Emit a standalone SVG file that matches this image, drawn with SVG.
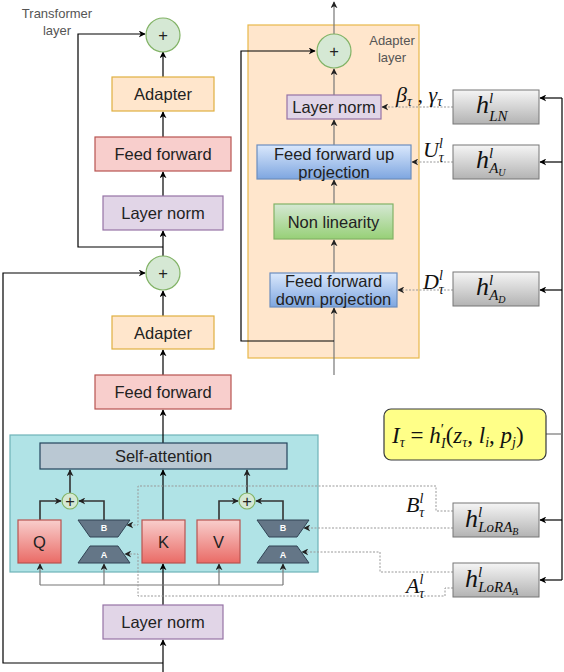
<svg xmlns="http://www.w3.org/2000/svg" width="564" height="672" viewBox="0 0 564 672">
<defs>
<marker id="arr" viewBox="0 0 10 10" refX="9" refY="5" markerWidth="7" markerHeight="7" orient="auto" markerUnits="userSpaceOnUse"><path d="M0,0 L10,5 L0,10 L3,5 z" fill="#000"/></marker>
<marker id="arrg" viewBox="0 0 10 10" refX="9" refY="5" markerWidth="7" markerHeight="7" orient="auto" markerUnits="userSpaceOnUse"><path d="M0,0 L10,5 L0,10 L3,5 z" fill="#222"/></marker>
<linearGradient id="gGray" x1="0" y1="0" x2="0" y2="1"><stop offset="0" stop-color="#f5f5f5"/><stop offset="1" stop-color="#b3b3b3"/></linearGradient>
<linearGradient id="gRed" x1="0" y1="0" x2="0" y2="1"><stop offset="0" stop-color="#f8cecc"/><stop offset="1" stop-color="#ea6b66"/></linearGradient>
<linearGradient id="gBlue" x1="0" y1="0" x2="0" y2="1"><stop offset="0" stop-color="#dae8fc"/><stop offset="1" stop-color="#7ea6e0"/></linearGradient>
<linearGradient id="gGreen" x1="0" y1="0" x2="0" y2="1"><stop offset="0" stop-color="#d5e8d4"/><stop offset="1" stop-color="#97d077"/></linearGradient>
</defs>
<style>
.lbl{font-family:"Liberation Sans",Arial,sans-serif;font-size:16.5px;fill:#222;text-anchor:middle;dominant-baseline:central}
.sm{font-family:"Liberation Sans",Arial,sans-serif;font-size:13px;fill:#555;text-anchor:middle}
.m{font-family:"Liberation Serif","Times New Roman",serif;font-style:italic;fill:#111}
.ln{fill:none;stroke:#000;stroke-width:1.2}
.lg{fill:none;stroke:#777;stroke-width:1.2}
.ld{fill:none;stroke:#333;stroke-width:1.6}
.dot{fill:none;stroke:#999;stroke-width:1;stroke-dasharray:2 1.5}
.adapter{fill:#ffe6cc;stroke:#e0b040;stroke-width:1.2}
.ff{fill:#f8cecc;stroke:#b85450;stroke-width:1.2}
.norm{fill:#e1d5e7;stroke:#9673a6;stroke-width:1.2}
.plus{fill:#d5e8d4;stroke:#82b366;stroke-width:1.2}
.hbox{fill:url(#gGray);stroke:#777;stroke-width:1}
.qkv{fill:url(#gRed);stroke:#b85450;stroke-width:1.2}
.trap{fill:#647687;stroke:#314354;stroke-width:1}
.tl{font-family:"Liberation Sans",Arial,sans-serif;font-size:9px;font-weight:bold;fill:#fff;text-anchor:middle;dominant-baseline:central}
</style>

<g id="adapter-layer-panel">
<rect x="248" y="25" width="171" height="333" fill="#ffe6cc" stroke="#e8b84a" stroke-width="1.2"/>
<text class="sm" x="392" y="45">Adapter</text>
<text class="sm" x="392" y="62">layer</text>
</g>
<g id="teal-panel"><rect x="10" y="435" width="308" height="137" fill="#b0e3e6" stroke="#6fb3b8" stroke-width="1.2"/></g>

<g id="connectors">
<path class="ln" d="M163,256 V231" marker-end="url(#arr)"/>
<path class="ln" d="M163,247 H78 V34 H145" marker-end="url(#arr)"/>
<path class="ln" d="M163,196 V172" marker-end="url(#arr)"/>
<path class="ln" d="M163,137 V112" marker-end="url(#arr)"/>
<path class="ln" d="M163,77 V52" marker-end="url(#arr)"/>
<path class="ln" d="M163,316 V291" marker-end="url(#arr)"/>
<path class="ln" d="M163,375 V350" marker-end="url(#arr)"/>
<path class="ln" d="M163,443 V410" marker-end="url(#arr)"/>
<path class="ln" d="M163,672 V640" marker-end="url(#arr)"/>
<path class="ln" d="M163,663 H3 V273 H145" marker-end="url(#arr)"/>
<path class="ln" d="M163,605 V564" marker-end="url(#arr)"/>
<path class="ln" d="M163,520 V470" marker-end="url(#arr)"/>
<path class="lg" d="M40,585 H283"/>
<path class="lg" d="M40,585 V564" marker-end="url(#arrg)"/>
<path class="lg" d="M104,585 V564" marker-end="url(#arrg)"/>
<path class="lg" d="M219,585 V564" marker-end="url(#arrg)"/>
<path class="lg" d="M283,585 V564" marker-end="url(#arrg)"/>
<path class="ld" d="M40,520 V501 H61" marker-end="url(#arrg)"/>
<path class="ld" d="M104,520 V501 H79" marker-end="url(#arrg)"/>
<path class="ld" d="M70,493 V470" marker-end="url(#arrg)"/>
<path class="ld" d="M219,520 V501 H238" marker-end="url(#arrg)"/>
<path class="ld" d="M283,520 V501 H256" marker-end="url(#arrg)"/>
<path class="ld" d="M247,493 V470" marker-end="url(#arrg)"/>
<path class="lg" d="M334,375 V308" marker-end="url(#arrg)"/>
<path class="ln" d="M334,341 H241 V51 H315" marker-end="url(#arr)"/>
<path class="lg" d="M334,273 V240" marker-end="url(#arrg)"/>
<path class="lg" d="M334,204 V180" marker-end="url(#arrg)"/>
<path class="lg" d="M334,145 V120" marker-end="url(#arrg)"/>
<path class="lg" d="M334,95 V69" marker-end="url(#arrg)"/>
<path class="lg" d="M334,34 V2" marker-end="url(#arrg)"/>
<path class="ln" d="M562,98 V580"/>
<path class="ln" d="M562,98 H540" marker-end="url(#arr)"/>
<path class="ln" d="M562,162 H540" marker-end="url(#arr)"/>
<path class="ln" d="M562,290 H540" marker-end="url(#arr)"/>
<path class="ln" d="M562,520 H540" marker-end="url(#arr)"/>
<path class="ln" d="M562,580 H540" marker-end="url(#arr)"/>
<path class="lg" d="M546,434 H562" stroke="#999"/>
<path class="dot" d="M453,107 H382" marker-end="url(#arrg)"/>
<path class="dot" d="M453,162 H412" marker-end="url(#arrg)"/>
<path class="dot" d="M453,290 H398" marker-end="url(#arrg)"/>
<path class="dot" d="M453,528 H304" marker-end="url(#arrg)"/>
<path class="dot" d="M453,511 H436 V486 H138 V525 H127" marker-end="url(#arrg)"/>
<path class="dot" d="M453,572 H380 V552 H302" marker-end="url(#arrg)"/>
<path class="dot" d="M453,588 H445 V596 H138 V554 H125" marker-end="url(#arrg)"/>
</g>

<text class="sm" x="57" y="18">Transformer</text>
<text class="sm" x="57" y="35">layer</text>

<g id="plus-top"><circle class="plus" cx="163" cy="35" r="17"/><text class="lbl" x="163" y="35" font-size="13">+</text></g>
<g id="adapter-top"><rect class="adapter" x="112" y="77" width="102" height="34"/><text class="lbl" x="163" y="94">Adapter</text></g>
<g id="ff-top"><rect class="ff" x="95" y="137" width="136" height="34"/><text class="lbl" x="163" y="154">Feed forward</text></g>
<g id="norm-top"><rect class="norm" x="103" y="196" width="120" height="34"/><text class="lbl" x="163" y="213">Layer norm</text></g>
<g id="plus-mid"><circle class="plus" cx="163" cy="273" r="17"/><text class="lbl" x="163" y="273" font-size="13">+</text></g>
<g id="adapter-bottom"><rect class="adapter" x="112" y="316" width="102" height="33"/><text class="lbl" x="163" y="332.5">Adapter</text></g>
<g id="ff-bottom"><rect class="ff" x="95" y="375" width="136" height="34"/><text class="lbl" x="163" y="392">Feed forward</text></g>
<g id="self-attention"><rect x="40" y="443" width="247" height="26" fill="#bac8d3" stroke="#23445d" stroke-width="1.2"/><text class="lbl" x="163.5" y="456">Self-attention</text></g>
<g id="q"><rect class="qkv" x="18" y="520" width="43" height="43"/><text class="lbl" x="39.5" y="541.5" font-size="19">Q</text></g>
<g id="k"><rect class="qkv" x="142" y="520" width="43" height="43"/><text class="lbl" x="163.5" y="541.5" font-size="19">K</text></g>
<g id="v"><rect class="qkv" x="197" y="520" width="43" height="43"/><text class="lbl" x="218.5" y="541.5" font-size="19">V</text></g>
<g id="lora-b1"><path class="trap" d="M78,520 H130 L118,537 H90 Z"/><text class="tl" x="104" y="528">B</text></g>
<g id="lora-a1"><path class="trap" d="M90,546 H118 L130,563 H78 Z"/><text class="tl" x="104" y="555">A</text></g>
<g id="lora-b2"><path class="trap" d="M257,520 H309 L297,537 H269 Z"/><text class="tl" x="283" y="528">B</text></g>
<g id="lora-a2"><path class="trap" d="M269,546 H297 L309,563 H257 Z"/><text class="tl" x="283" y="555">A</text></g>
<g id="sum-q"><circle class="plus" cx="70" cy="501" r="8"/><text class="lbl" x="70" y="501" font-size="8">+</text></g>
<g id="sum-v"><circle class="plus" cx="247" cy="501" r="8"/><text class="lbl" x="247" y="501" font-size="8">+</text></g>
<g id="norm-bottom"><rect class="norm" x="103" y="605" width="120" height="34"/><text class="lbl" x="163" y="622">Layer norm</text></g>

<g id="plus-adapter"><circle class="plus" cx="334" cy="51" r="17"/><text class="lbl" x="334" y="51" font-size="13">+</text></g>
<g id="adapter-norm"><rect class="norm" x="287" y="95" width="94" height="24"/><text class="lbl" x="334" y="107">Layer norm</text></g>
<g id="ff-up"><rect x="257" y="145" width="154" height="34" fill="url(#gBlue)" stroke="#6c8ebf" stroke-width="1.2"/><text class="lbl" x="334" y="154">Feed forward up</text><text class="lbl" x="334" y="172">projection</text></g>
<g id="non-linearity"><rect x="274" y="204" width="119" height="35" fill="url(#gGreen)" stroke="#82b366" stroke-width="1.2"/><text class="lbl" x="333.5" y="221.5">Non linearity</text></g>
<g id="ff-down"><rect x="270" y="273" width="127" height="34" fill="url(#gBlue)" stroke="#6c8ebf" stroke-width="1.2"/><text class="lbl" x="333.5" y="281">Feed forward</text><text class="lbl" x="333.5" y="299">down projection</text></g>

<g id="h-ln"><rect class="hbox" x="453" y="90" width="86" height="34"/><text class="m" x="476" y="113" font-size="26">h<tspan font-size="15" dy="-10">l</tspan><tspan font-size="15" dx="-4" dy="18">LN</tspan></text></g>
<g id="h-au"><rect class="hbox" x="453" y="145" width="86" height="34"/><text class="m" x="476" y="168" font-size="26">h<tspan font-size="15" dy="-10">l</tspan><tspan font-size="15" dx="-4" dy="15">A</tspan><tspan font-size="10" dy="3">U</tspan></text></g>
<g id="h-ad"><rect class="hbox" x="453" y="272" width="86" height="34"/><text class="m" x="476" y="295" font-size="26">h<tspan font-size="15" dy="-10">l</tspan><tspan font-size="15" dx="-4" dy="15">A</tspan><tspan font-size="10" dy="3">D</tspan></text></g>
<g id="h-lora-b"><rect class="hbox" x="453" y="503" width="86" height="34"/><text class="m" x="465" y="527" font-size="26">h<tspan font-size="15" dy="-10">l</tspan><tspan font-size="15" dx="-4" dy="15">LoRA</tspan><tspan font-size="10" dy="3">B</tspan></text></g>
<g id="h-lora-a"><rect class="hbox" x="453" y="563" width="86" height="34"/><text class="m" x="465" y="587" font-size="26">h<tspan font-size="15" dy="-10">l</tspan><tspan font-size="15" dx="-4" dy="15">LoRA</tspan><tspan font-size="10" dy="3">A</tspan></text></g>

<g id="i-tau"><rect x="384" y="409" width="162" height="51" rx="7" fill="#ffff88" stroke="#36393d" stroke-width="1.2"/>
<text class="m" x="392" y="443" font-size="23">I<tspan font-size="14" dy="4">τ</tspan><tspan font-style="normal" dy="-4"> = </tspan>h<tspan font-size="15" dy="-9" font-style="normal">′</tspan><tspan font-size="14" dx="-3" dy="14">I</tspan><tspan font-style="normal" dy="-5">(</tspan>z<tspan font-size="14" dy="4">τ</tspan><tspan font-style="normal" dy="-4">, </tspan>l<tspan font-size="14" dy="4">i</tspan><tspan font-style="normal" dy="-4">, </tspan>p<tspan font-size="14" dy="4">j</tspan><tspan font-style="normal" dy="-4">)</tspan></text></g>

<text class="m" x="396" y="102" font-size="22">β<tspan font-size="14" dy="4">τ</tspan><tspan font-style="normal" dy="-4"> , </tspan>γ<tspan font-size="14" dy="4">τ</tspan></text>
<text class="m" x="423" y="157" font-size="22">U<tspan font-size="14" dy="-9">l</tspan><tspan font-size="14" dx="-4" dy="14">τ</tspan></text>
<text class="m" x="423" y="289" font-size="22">D<tspan font-size="14" dy="-9">l</tspan><tspan font-size="14" dx="-4" dy="14">τ</tspan></text>
<text class="m" x="406" y="512" font-size="22">B<tspan font-size="14" dy="-9">l</tspan><tspan font-size="14" dx="-4" dy="14">τ</tspan></text>
<text class="m" x="406" y="593" font-size="22">A<tspan font-size="14" dy="-9">l</tspan><tspan font-size="14" dx="-4" dy="14">τ</tspan></text>
</svg>
